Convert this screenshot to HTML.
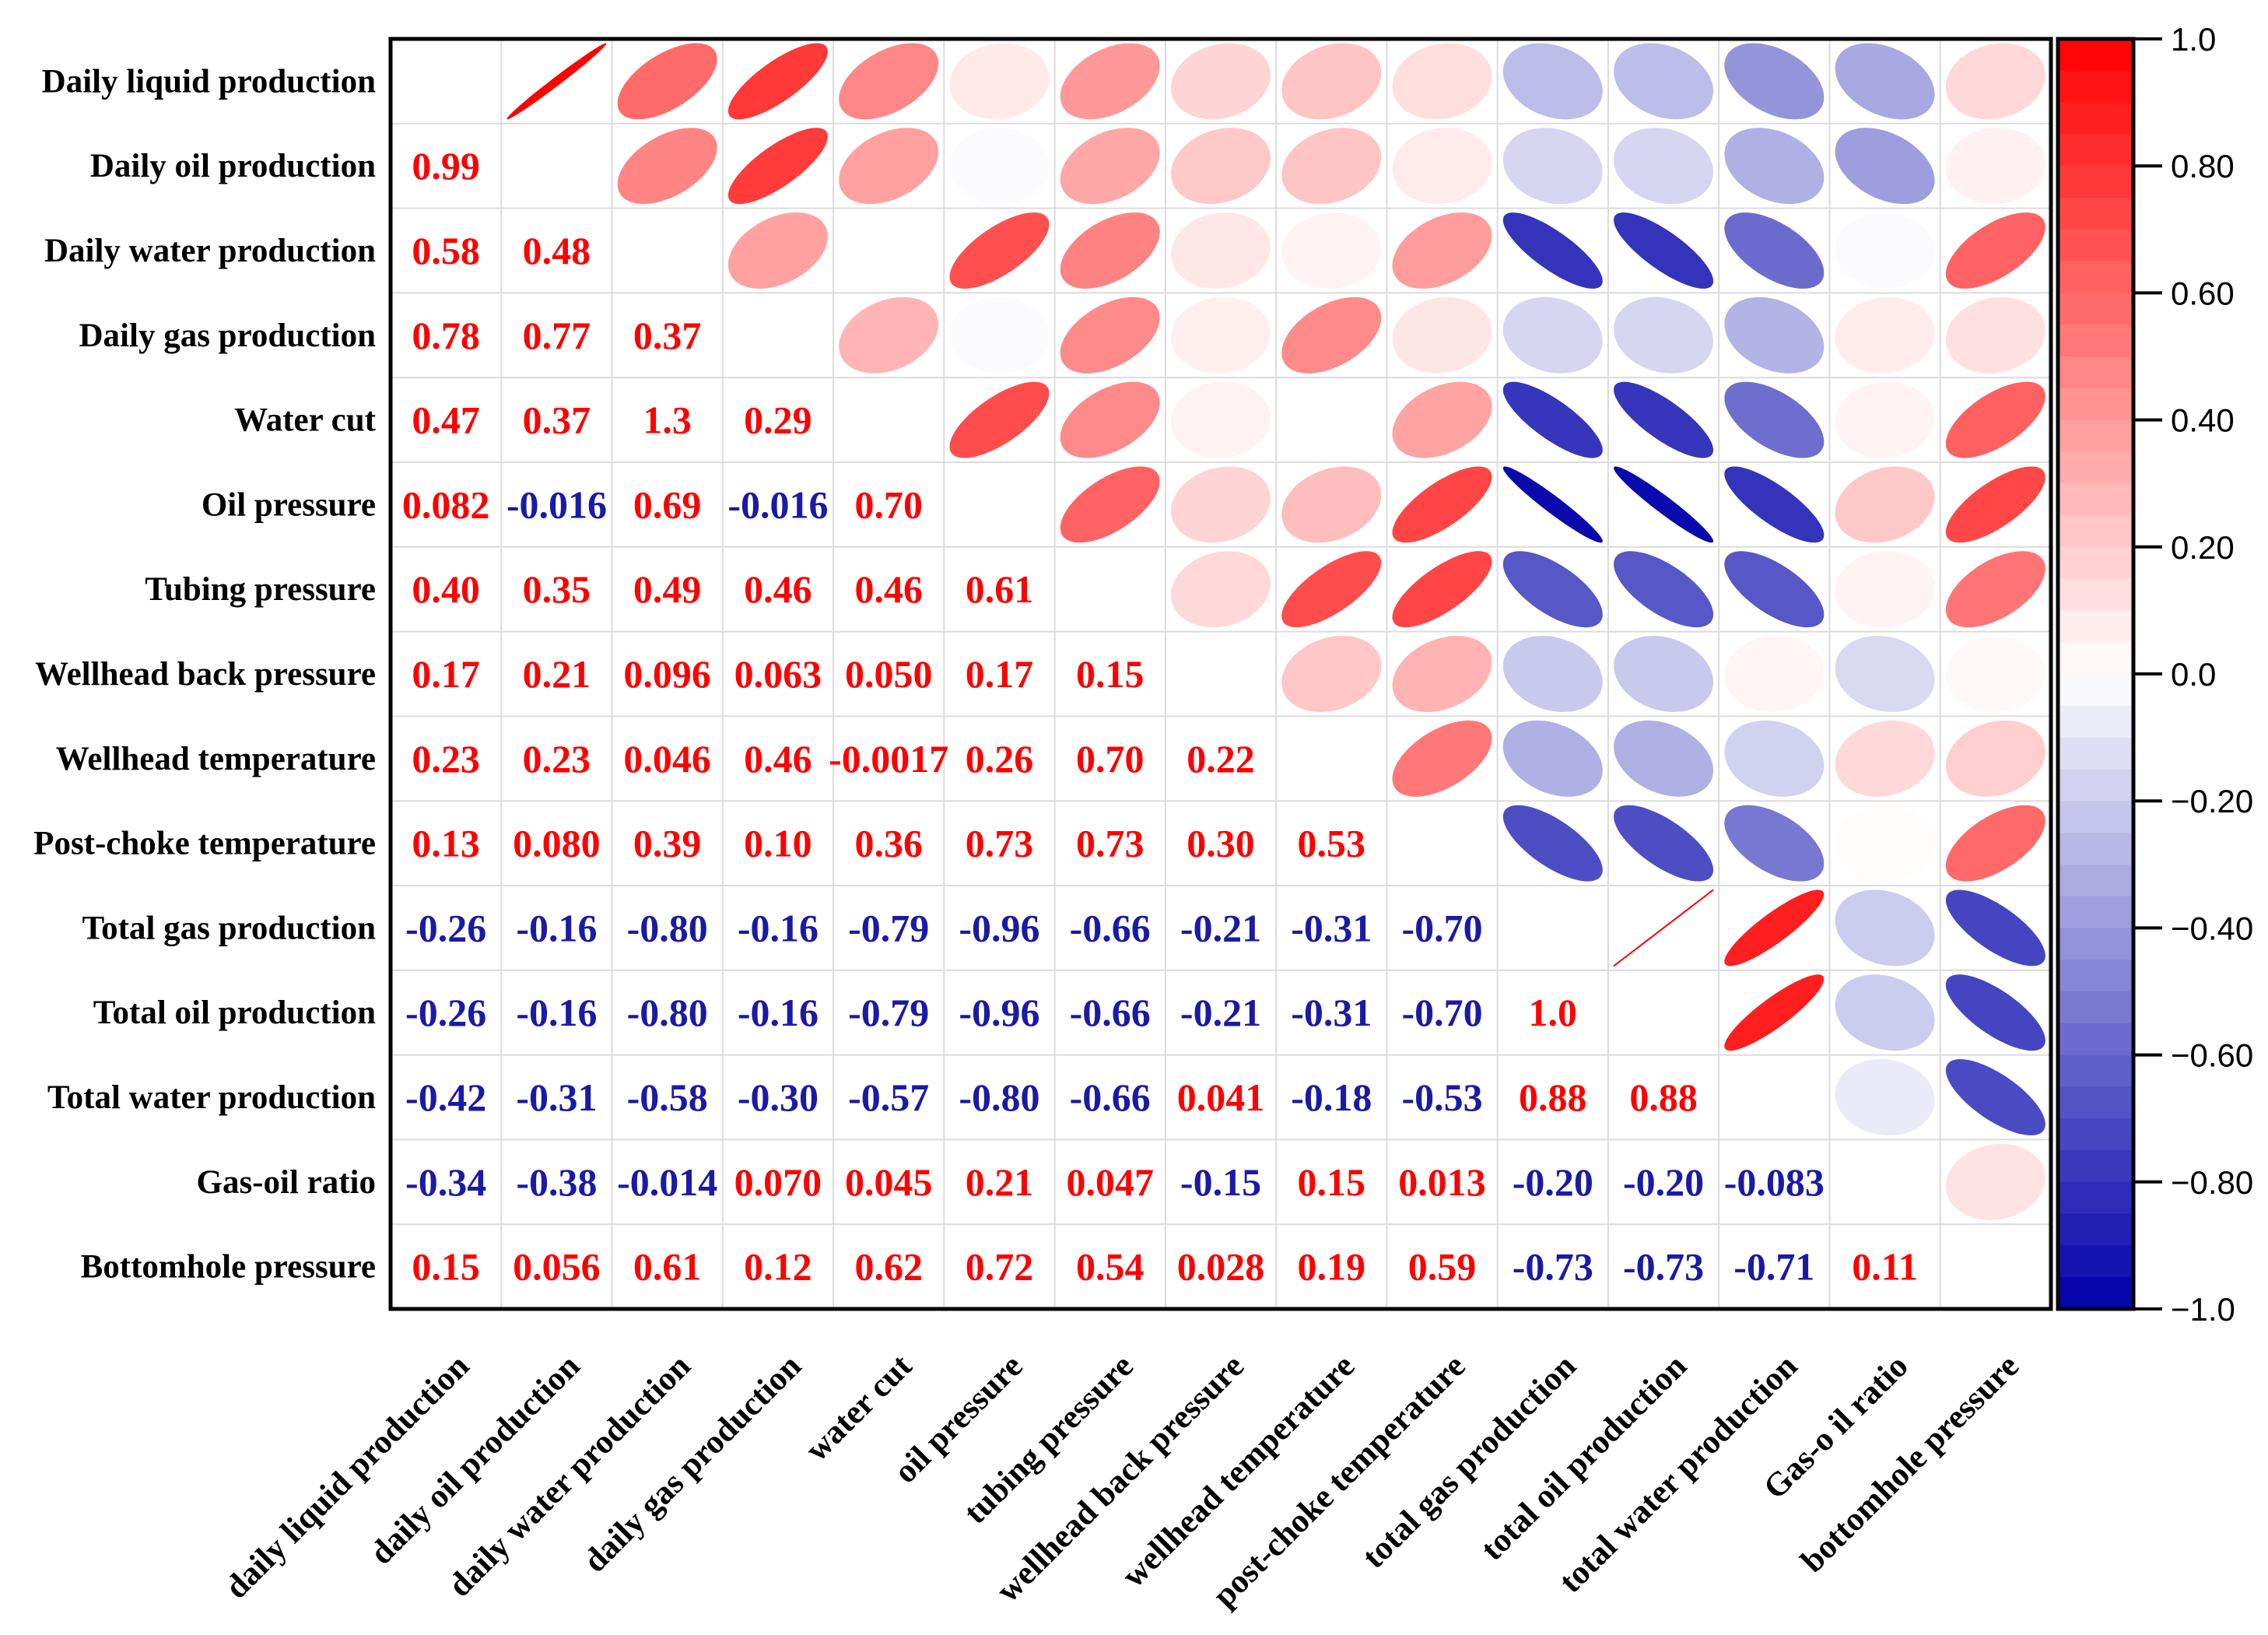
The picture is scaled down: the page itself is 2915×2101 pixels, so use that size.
<!DOCTYPE html>
<html><head><meta charset="utf-8"><style>
html,body{margin:0;padding:0;background:#fff;}
svg{display:block;}
</style></head><body>
<svg id="chart" width="2915" height="2101" viewBox="0 0 2915 2101" xmlns="http://www.w3.org/2000/svg">
<g id="grid"></g>
<g id="colorbar"></g>
</svg>
<script>
const rowLabels = ["Daily liquid production","Daily oil production","Daily water production","Daily gas production","Water cut","Oil pressure","Tubing pressure","Wellhead back pressure","Wellhead temperature","Post-choke temperature","Total gas production","Total oil production","Total water production","Gas-oil ratio","Bottomhole pressure"];
const colLabels = ["daily liquid production","daily oil production","daily water production","daily gas production","water cut","oil pressure","tubing pressure","wellhead back pressure","wellhead temperature","post-choke temperature","total gas production","total oil production","total water production","Gas-o il  ratio","bottomhole pressure"];
const lowerValues = [
 [],
 ["0.99"],
 ["0.58","0.48"],
 ["0.78","0.77","0.37"],
 ["0.47","0.37","1.3","0.29"],
 ["0.082","-0.016","0.69","-0.016","0.70"],
 ["0.40","0.35","0.49","0.46","0.46","0.61"],
 ["0.17","0.21","0.096","0.063","0.050","0.17","0.15"],
 ["0.23","0.23","0.046","0.46","-0.0017","0.26","0.70","0.22"],
 ["0.13","0.080","0.39","0.10","0.36","0.73","0.73","0.30","0.53"],
 ["-0.26","-0.16","-0.80","-0.16","-0.79","-0.96","-0.66","-0.21","-0.31","-0.70"],
 ["-0.26","-0.16","-0.80","-0.16","-0.79","-0.96","-0.66","-0.21","-0.31","-0.70","1.0"],
 ["-0.42","-0.31","-0.58","-0.30","-0.57","-0.80","-0.66","0.041","-0.18","-0.53","0.88","0.88"],
 ["-0.34","-0.38","-0.014","0.070","0.045","0.21","0.047","-0.15","0.15","0.013","-0.20","-0.20","-0.083"],
 ["0.15","0.056","0.61","0.12","0.62","0.72","0.54","0.028","0.19","0.59","-0.73","-0.73","-0.71","0.11"]
];
const colorbarTicks = [1.0,0.8,0.6,0.4,0.2,0.0,-0.2,-0.4,-0.6,-0.8,-1.0];
const colorbarTickLabels = ["1.0","0.80","0.60","0.40","0.20","0.0","\u22120.20","\u22120.40","\u22120.60","\u22120.80","\u22121.0"];

const NS="http://www.w3.org/2000/svg";
const L=502,R=2636,T=50,B=1682,N=15;
const cw=(R-L)/N, ch=(B-T)/N;
const xc=j=>L+cw*(j+0.5), yc=i=>T+ch*(i+0.5);
function color(r){
  const a=Math.min(1,Math.abs(r));
  if(r>=0){const g=Math.round(255*(1-a));return `rgb(255,${g},${g})`;}
  return `rgb(${Math.round(255*(1-a))},${Math.round(255*(1-a))},${Math.round(255-85*a)})`;
}
function mk(tag,attrs,parent){const e=document.createElementNS(NS,tag);for(const k in attrs)e.setAttribute(k,attrs[k]);parent.appendChild(e);return e;}
const g=document.getElementById('grid');
const cb=document.getElementById('colorbar');
for(let k=1;k<N;k++){
  const v=mk('line',{x1:L+cw*k,x2:L+cw*k,y1:T,y2:B,stroke:'#dcdcdc','stroke-width':2},g);
  
  
  const h=mk('line',{x1:L,x2:R,y1:T+ch*k,y2:T+ch*k,stroke:'#dcdcdc','stroke-width':2},g);
  
  
}
function val(i,j){ if(i===j) return null; return i>j?lowerValues[i][j]:lowerValues[j][i]; }
for(let i=0;i<N;i++){
  for(let j=0;j<N;j++){
    if(i===j) continue;
    const s=val(i,j); const r=parseFloat(s);
    if(i>j){
      const t=mk('text',{x:xc(j),y:yc(i)+17,'text-anchor':'middle','font-family':'"Liberation Serif",serif','font-weight':'bold','font-size':50,fill:(r>-0.01?'#ff0000':'#1a1aa6')},g);
      t.textContent=s;
      
      
    } else {
      if(Math.abs(r)>1.0001) continue;
      const d=Math.acos(Math.max(-1,Math.min(1,r)));
      let pts=[];
      for(let k=0;k<72;k++){const a=k/72*2*Math.PI;
        const ux=Math.cos(a+d/2), uy=Math.cos(a-d/2);
        pts.push((xc(j)+ux*cw*0.45).toFixed(1)+','+(yc(i)-uy*ch*0.45).toFixed(1));}
      const p=mk('polygon',{points:pts.join(' '),fill:color(r),stroke:(Math.abs(r)>0.995?color(r):'none'),'stroke-width':2},g);
      
      
    }
  }
}
mk('rect',{x:L,y:T,width:R-L,height:B-T,fill:'none',stroke:'#000','stroke-width':5},g);
rowLabels.forEach((s,i)=>{
  const t=mk('text',{x:483,y:yc(i)+14,'text-anchor':'end','font-family':'"Liberation Serif",serif','font-weight':'bold','font-size':43,fill:'#000'},g);
  t.textContent=s;
  
  
});
colLabels.forEach((s,j)=>{
  const x=xc(j)+32,y=B+76;
  const t=mk('text',{x:x,y:y,'text-anchor':'end','font-family':'"Liberation Serif",serif','font-weight':'bold','font-size':43,fill:'#000',transform:`rotate(-45 ${x} ${y})`},g);
  t.textContent=s;
  
  
});
const cbL=2645,cbR=2742;
const cy=v=>T+(1-v)/2*(B-T);
const steps=40;
for(let k=0;k<steps;k++){
  const v1=1-2*k/steps, v2=1-2*(k+1)/steps;
  const rc=mk('rect',{x:cbL,y:cy(v1),width:cbR-cbL,height:cy(v2)-cy(v1)+0.5,fill:color((v1+v2)/2)},cb);
  
  
}
mk('rect',{x:cbL,y:T,width:cbR-cbL,height:B-T,fill:'none',stroke:'#000','stroke-width':5},cb);
colorbarTicks.forEach((v,k)=>{
  const l=mk('line',{x1:cbR,x2:2779,y1:cy(v),y2:cy(v),stroke:'#000','stroke-width':4},cb);
  
  
  const t=mk('text',{x:2790,y:cy(v)+15,'font-family':'"Liberation Sans",sans-serif','font-size':42,fill:'#000'},cb);
  t.textContent=colorbarTickLabels[k];
  
  
});
</script>
</body></html>
